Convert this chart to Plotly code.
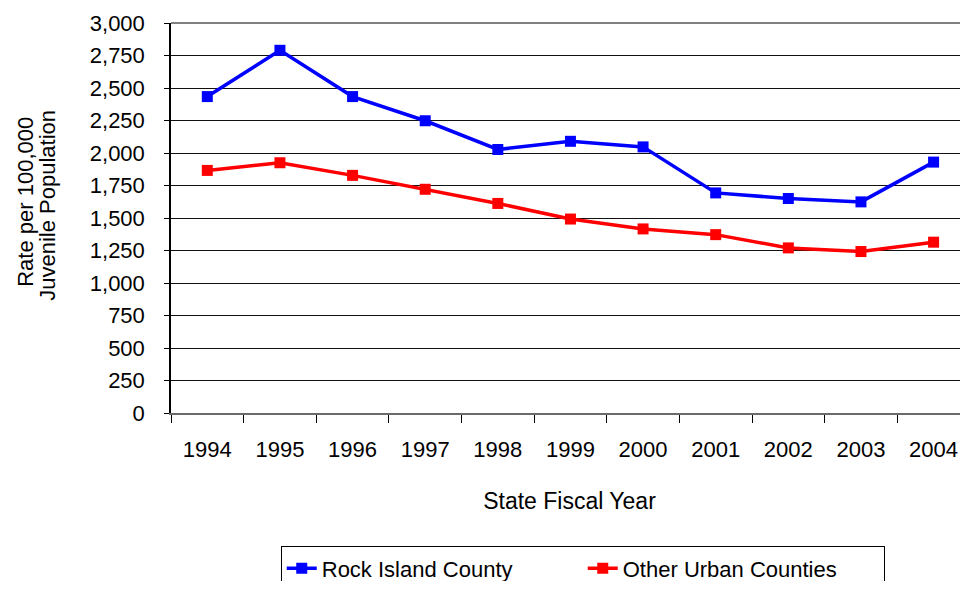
import plotly.graph_objects as go

years = ["1994", "1995", "1996", "1997", "1998", "1999", "2000", "2001", "2002", "2003", "2004"]
rock_island = [2434, 2790, 2434, 2248, 2027, 2090, 2047, 1693, 1650, 1624, 1930]
other_urban = [1866, 1925, 1828, 1721, 1612, 1492, 1416, 1372, 1270, 1242, 1314]
y_ticks = [0, 250, 500, 750, 1000, 1250, 1500, 1750, 2000, 2250, 2500, 2750, 3000]

FONT = "Liberation Sans, Arial, sans-serif"
FS = 22

# The page body has an 8px default margin on every side; positions below are
# window pixels. The figure is sized so the page never needs a scrollbar.
OFF = 8
W, H = 968 - OFF, 589 - 2 * OFF


def fx(px):
    return px - OFF


fig = go.Figure()
fig.add_trace(go.Scatter(
    x=years, y=rock_island, name="Rock Island County", mode="lines+markers",
    line=dict(color="#0000FF", width=3.5),
    marker=dict(symbol="square", size=11, color="#0000FF"),
))
fig.add_trace(go.Scatter(
    x=years, y=other_urban, name="Other Urban Counties", mode="lines+markers",
    line=dict(color="#FF0000", width=3.5),
    marker=dict(symbol="square", size=11, color="#FF0000"),
))

L = fx(171.3)
T = fx(22.5)
bottom = fx(413.3)
B = H - bottom
plot_w = W - L
plot_h = bottom - T
cat_w = 72.6


def px_x(px):
    return (fx(px) - L) / plot_w


def px_y(py):
    return (bottom - fx(py)) / plot_h


fig.update_layout(
    width=W, height=H,
    margin=dict(l=L, r=0, t=T, b=B, pad=0, autoexpand=False),
    paper_bgcolor="white", plot_bgcolor="white",
    font=dict(family=FONT, size=FS, color="black"),
    showlegend=True,
    legend=dict(
        orientation="h",
        x=px_x(281), xanchor="left",
        y=px_y(547), yanchor="top",
        bordercolor="black", borderwidth=1,
        font=dict(family=FONT, size=FS, color="black"),
        entrywidth=256, entrywidthmode="pixels",
        traceorder="normal",
    ),
    xaxis=dict(
        type="category",
        range=[-0.5, -0.5 + plot_w / cat_w],
        showgrid=False, zeroline=False, automargin=False,
        showline=True, linecolor="#6a6a6a", linewidth=2,
        ticks="outside", ticklen=8, tickcolor="black", tickwidth=1,
        tickson="boundaries",
        ticklabelstandoff=16,
        tickfont=dict(family=FONT, size=FS, color="black"),
        title=dict(text="State Fiscal Year", standoff=31,
                   font=dict(family=FONT, size=23, color="black")),
        fixedrange=True,
    ),
    yaxis=dict(
        range=[0, 3000],
        tickvals=y_ticks, tickformat=",d",
        showgrid=True, gridcolor="#111111", gridwidth=1,
        zeroline=False, automargin=False,
        showline=True, linecolor="black", linewidth=1.5,
        ticks="outside", ticklen=5, tickcolor="black", tickwidth=1,
        ticklabelstandoff=15,
        tickfont=dict(family=FONT, size=FS, color="black"),
        fixedrange=True,
    ),
    shapes=[dict(type="line", xref="paper", yref="paper", x0=0, x1=1, y0=1, y1=1,
                 line=dict(color="#808080", width=2))],
    annotations=[
        dict(text="Rate per 100,000", textangle=-90, xref="paper", yref="paper",
             x=px_x(25), y=px_y(202),
             xanchor="center", yanchor="middle", showarrow=False,
             font=dict(family=FONT, size=FS, color="black")),
        dict(text="Juvenile Population", textangle=-90, xref="paper", yref="paper",
             x=px_x(47), y=px_y(205),
             xanchor="center", yanchor="middle", showarrow=False,
             font=dict(family=FONT, size=FS, color="black")),
    ],
)

fig.write_html("out.html", default_width=f"{W}px", default_height=f"{H}px")
